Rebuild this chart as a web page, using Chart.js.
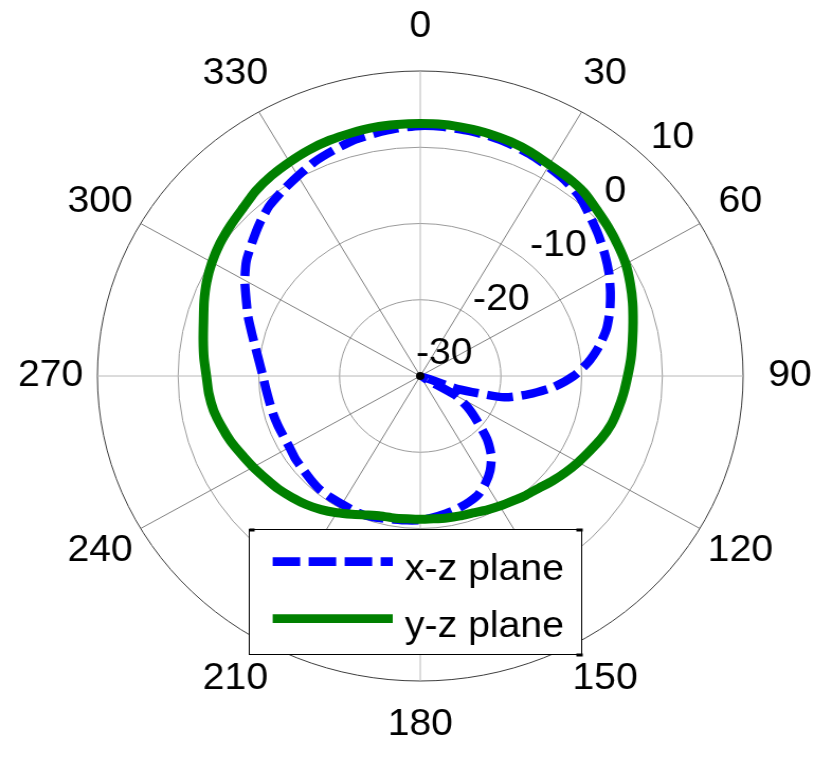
<!DOCTYPE html>
<html>
<head>
<meta charset="utf-8">
<script src="https://cdn.jsdelivr.net/npm/chart.js@4.4.0/dist/chart.umd.min.js"></script>
<style>
html,body{margin:0;padding:0;background:#ffffff;overflow:hidden}
</style>
</head>
<body>
<canvas id="c" width="786" height="757" style="display:block;width:832px;height:757px"></canvas>
<script>
// ---- data ----
const angles = ['0','5','10','15','20','25','30','35','40','45','50','55',
  '60','65','70','75','80','85','90','95','100','105','110','115',
  '120','125','130','135','140','145','150','155','160','165','170','175',
  '180','185','190','195','200','205','210','215','220','225','230','235',
  '240','245','250','255','260','265','270','275','280','285','290','295',
  '300','305','310','315','320','325','330','335','340','345','350','355'];

const angleLabels = ['0','30','60','90','120','150','180','210','240','270','300','330'];

const radialTicks = [-30, -20, -10, 0, 10];

const seriesNames = ['x-z plane', 'y-z plane'];

const xzPlane = [
  2.8, 2.8, 2.7, 2.6, 2.4, 2.1, 1.7, 1.3, 0.7, -0.3, -1.2, -2.1,
  -3.0, -4.0, -5.0, -6.1, -7.5, -9.1, -11.0, -13.4, -16.3, -19.2, -25.0, -29.5,
  -25.0, -22.8, -20.8, -18.3, -16.3, -14.9, -13.8, -12.9, -12.4, -12.0, -11.7, -11.4,
  -11.1, -11.0, -10.9, -10.7, -10.5, -10.5, -10.6, -10.6, -10.6, -10.8, -11.0, -11.1,
  -11.3, -11.3, -11.2, -11.1, -11.0, -10.8, -10.5, -10.0, -9.3, -8.4, -7.3, -6.2,
  -4.9, -3.7, -2.8, -1.8, -0.9, -0.3, 0.3, 1.0, 1.5, 2.0, 2.3, 2.6
];

const yzPlane = [
  3.1, 3.1, 3.0, 2.9, 2.7, 2.4, 2.0, 1.8, 1.5, 0.9, 0.4, -0.1,
  -0.6, -1.3, -2.0, -2.7, -3.3, -3.8, -4.3, -4.7, -5.1, -5.5, -6.1, -6.8,
  -7.4, -8.0, -8.6, -9.2, -9.6, -10.0, -10.3, -10.6, -10.9, -11.0, -11.1, -11.2,
  -11.2, -11.2, -11.1, -11.0, -10.6, -10.0, -9.3, -8.6, -8.0, -7.5, -7.0, -6.6,
  -6.1, -5.6, -5.0, -4.5, -4.0, -3.7, -3.5, -3.1, -2.7, -2.2, -1.5, -0.8,
  -0.2, 0.3, 0.7, 1.1, 1.7, 2.1, 2.4, 2.7, 2.9, 3.0, 3.1, 3.1
];

// ---- styling ----
const BLUE = '#0000ff';
const GREEN = '#008000';
const FONT = '37px "Liberation Sans", Arial, Helvetica, sans-serif';

const overlay = {
  id: 'overlay',
  afterDatasetsDraw(chart) {
    const s = chart.scales.r;
    const ctx = chart.ctx;
    const R = s.drawingArea;
    ctx.save();

    // centre dot
    ctx.fillStyle = '#000';
    ctx.beginPath();
    ctx.arc(s.xCenter, s.yCenter, 4, 0, Math.PI * 2);
    ctx.fill();

    ctx.font = FONT;
    ctx.fillStyle = '#000';
    ctx.textAlign = 'center';
    ctx.textBaseline = 'middle';

    // angle labels around the circle
    angleLabels.forEach(lbl => {
      const p = s.getPointPosition(angles.indexOf(lbl), R * 1.145);
      ctx.fillText(lbl, p.x, p.y);
    });

    // radial tick labels along the 45 degree direction
    const i45 = angles.indexOf('45');
    radialTicks.forEach(v => {
      const p = s.getPointPosition(i45, s.getDistanceFromCenterForValue(v) + R * 0.105);
      ctx.fillText(String(v), p.x, p.y);
    });

    // legend box
    const bx = 235.5, by = 529.5, bw = 314, bh = 125;
    ctx.fillStyle = '#ffffff';
    ctx.fillRect(bx, by, bw, bh);
    ctx.strokeStyle = '#000';
    ctx.lineWidth = 1;
    ctx.strokeRect(bx, by, bw, bh);
    // small corner ticks of the legend frame
    ctx.fillStyle = '#000';
    ctx.fillRect(bx, by - 1, 5, 3);
    ctx.fillRect(bx + bw - 5, by - 1, 6, 3);
    ctx.fillRect(bx + bw - 5, by + bh - 1, 6, 3);

    const x0 = 257.6, x1 = 371;
    const rows = [
      {y: 561.7, color: BLUE, dash: [26, 8], text: seriesNames[0], base: 580},
      {y: 618.7, color: GREEN, dash: [], text: seriesNames[1], base: 637}
    ];
    rows.forEach(r => {
      ctx.beginPath();
      ctx.setLineDash(r.dash);
      ctx.strokeStyle = r.color;
      ctx.lineWidth = 8.7;
      ctx.lineCap = 'butt';
      ctx.moveTo(x0, r.y);
      ctx.lineTo(x1, r.y);
      ctx.stroke();
      ctx.setLineDash([]);
      ctx.fillStyle = '#000';
      ctx.textAlign = 'left';
      ctx.textBaseline = 'alphabetic';
      ctx.fillText(r.text, 382.6, r.base);
    });

    ctx.restore();
  }
};

new Chart(document.getElementById('c'), {
  type: 'radar',
  data: {
    labels: angles,
    datasets: [
      {
        label: seriesNames[0],
        data: xzPlane,
        borderColor: BLUE,
        borderWidth: 8.5,
        borderDash: [25, 8],
        borderJoinStyle: 'round',
        fill: false,
        pointRadius: 0,
        pointHoverRadius: 0,
        tension: 0.2,
        order: 1
      },
      {
        label: seriesNames[1],
        data: yzPlane,
        borderColor: GREEN,
        borderWidth: 9,
        borderJoinStyle: 'round',
        fill: false,
        pointRadius: 0,
        pointHoverRadius: 0,
        tension: 0.2,
        order: 0
      }
    ]
  },
  options: {
    responsive: false,
    devicePixelRatio: 1,
    animation: false,
    events: [],
    layout: { padding: { left: 92, right: 83, top: 71, bottom: 75 } },
    plugins: {
      legend: { display: false },
      tooltip: { enabled: false },
      title: { display: false }
    },
    scales: {
      r: {
        min: -30,
        max: 10,
        startAngle: 0,
        ticks: { display: false, stepSize: 10 },
        pointLabels: { display: false },
        grid: {
          circular: true,
          color: c => (c.index === 4 ? '#3c3c3c' : '#9a9a9a'),
          lineWidth: c => (c.index === 0 ? 0 : 1)
        },
        angleLines: {
          display: true,
          color: c => (c.index % 18 === 0 ? '#b8b8b8' : '#808080'),
          lineWidth: c => (c.index % 6 === 0 ? 1 : 0)
        }
      }
    }
  },
  plugins: [overlay]
});
</script>
</body>
</html>
